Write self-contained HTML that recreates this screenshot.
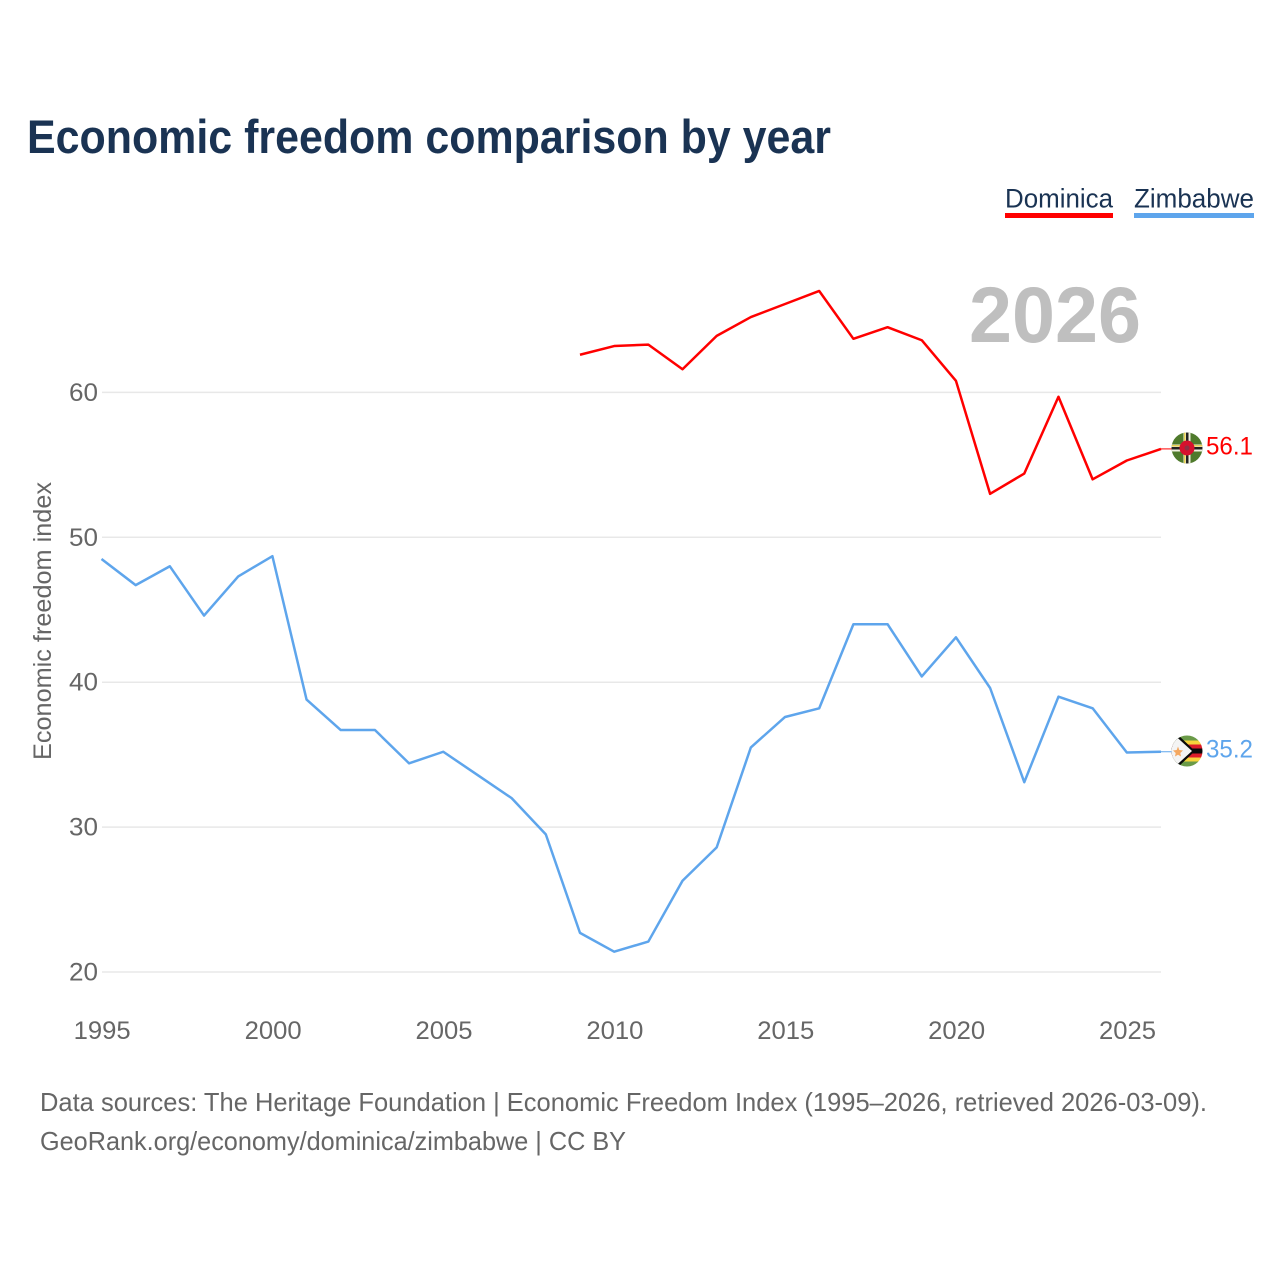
<!DOCTYPE html>
<html lang="en">
<head>
<meta charset="utf-8">
<title>Economic freedom comparison by year</title>
<style>
html,body{margin:0;padding:0;background:#fff;width:1280px;height:1280px;overflow:hidden}
svg{display:block}
text{font-family:"Liberation Sans",sans-serif}
</style>
</head>
<body>
<svg id="chart" width="1280" height="1280" viewBox="0 0 1280 1280" xmlns="http://www.w3.org/2000/svg">
<defs>
<clipPath id="clip-dm"><circle cx="1187" cy="448" r="15.5"/></clipPath>
<clipPath id="clip-zw"><circle cx="1187" cy="751" r="15.5"/></clipPath>
</defs>
<text x="27" y="153" font-size="47" font-weight="700" fill="#1a3353" textLength="804" lengthAdjust="spacingAndGlyphs">Economic freedom comparison by year</text>
<g>
<g>
<text x="1005" y="207.5" font-size="27" fill="#1a3353" textLength="108" lengthAdjust="spacingAndGlyphs">Dominica</text>
<rect x="1005" y="213" width="108" height="5" fill="#ff0000"/>
</g>
<g>
<text x="1134" y="207.5" font-size="27" fill="#1a3353" textLength="120" lengthAdjust="spacingAndGlyphs">Zimbabwe</text>
<rect x="1134" y="213" width="120" height="5" fill="#5ea5ec"/>
</g>
</g>
<text x="969" y="342" font-size="79" font-weight="700" fill="#bfbfbf" textLength="172" lengthAdjust="spacingAndGlyphs">2026</text>
<g id="grid"></g>
<g id="y-ticks"></g>
<g id="x-ticks"></g>
<text transform="translate(51 760) rotate(-90)" font-size="25" fill="#666666" textLength="278" lengthAdjust="spacingAndGlyphs">Economic freedom index</text>
<g id="series"></g>
<g id="flag-dominica" clip-path="url(#clip-dm)">
<rect x="1171" y="432" width="32" height="32" fill="#4f7a2c"/>
<rect x="1171" y="444.5" width="32" height="7" fill="#f0f0e0"/>
<rect x="1171" y="447" width="32" height="2.5" fill="#222222"/>
<rect x="1171" y="445" width="32" height="1.5" fill="#e8cf50"/>
<rect x="1183.5" y="432" width="7" height="32" fill="#f0f0e0"/>
<rect x="1186" y="432" width="2.5" height="32" fill="#222222"/>
<rect x="1184" y="432" width="1.5" height="32" fill="#e8cf50"/>
<circle cx="1187" cy="448" r="7.5" fill="#d6112e"/>
<circle cx="1187" cy="448" r="2.5" fill="#8f3044"/>
</g>
<g id="flag-zimbabwe" clip-path="url(#clip-zw)">
<rect x="1171" y="735" width="32" height="5.5" fill="#6a9a48"/>
<rect x="1171" y="740.5" width="32" height="4" fill="#f7d33c"/>
<rect x="1171" y="744.5" width="32" height="4" fill="#dc1c2a"/>
<rect x="1171" y="748.5" width="32" height="5" fill="#0a0a0a"/>
<rect x="1171" y="753.5" width="32" height="4" fill="#dc1c2a"/>
<rect x="1171" y="757.5" width="32" height="4" fill="#f7d33c"/>
<rect x="1171" y="761.5" width="32" height="6" fill="#6a9a48"/>
<polygon points="1171,734 1177,734 1195,751 1177,768 1171,768" fill="#0a0a0a"/>
<polygon points="1171,734 1175,735.5 1192,751 1175,766.5 1171,768" fill="#f4f4f4"/>
<polygon points="1178,746.5 1179.3,750 1183,750.5 1180.3,753 1181,756.5 1178,754.7 1175,756.5 1175.7,753 1173,750.5 1176.7,750" fill="#f5a860"/>
</g>
<g id="end-labels"></g>
<g>
<text x="40" y="1111" font-size="26" fill="#666666" textLength="1167" lengthAdjust="spacingAndGlyphs">Data sources: The Heritage Foundation | Economic Freedom Index (1995–2026, retrieved 2026-03-09).</text>
<text x="40" y="1150" font-size="26" fill="#666666" textLength="586" lengthAdjust="spacingAndGlyphs">GeoRank.org/economy/dominica/zimbabwe | CC BY</text>
</g>
</svg>
<script>
const years = [1995,1996,1997,1998,1999,2000,2001,2002,2003,2004,2005,2006,2007,2008,2009,2010,2011,2012,2013,2014,2015,2016,2017,2018,2019,2020,2021,2022,2023,2024,2025,2026];
const dominicaValues = [null,null,null,null,null,null,null,null,null,null,null,null,null,null,62.6,63.2,63.3,61.6,63.9,65.2,66.1,67.0,63.7,64.5,63.6,60.8,53.0,54.4,59.7,54.0,55.3,56.1];
const zimbabweValues = [48.5,46.7,48.0,44.6,47.3,48.7,38.8,36.7,36.7,34.4,35.2,33.6,32.0,29.5,22.7,21.4,22.1,26.3,28.6,35.5,37.6,38.2,44.0,44.0,40.4,43.1,39.6,33.1,39.0,38.2,35.15,35.2];
const yTickValues = [20,30,40,50,60];
const xTickValues = [1995,2000,2005,2010,2015,2020,2025];
const NS = 'http://www.w3.org/2000/svg';
const xScale = function (year) { return 101.5 + (year - 1995) * (1161 - 101.5) / 31; };
const yScale = function (value) { return 972 - (value - 20) * 14.49; };
const gridGroup = document.getElementById('grid');
const yTickGroup = document.getElementById('y-ticks');
const xTickGroup = document.getElementById('x-ticks');
const seriesGroup = document.getElementById('series');
const labelGroup = document.getElementById('end-labels');

yTickValues.forEach(function (tick) {
  const line = document.createElementNS(NS, 'line');
  
  
  line.setAttribute('x1', 102);
  line.setAttribute('x2', 1161);
  line.setAttribute('y1', yScale(tick));
  line.setAttribute('y2', yScale(tick));
  line.setAttribute('stroke', '#e8e8e8');
  line.setAttribute('stroke-width', 1.5);
  gridGroup.appendChild(line);
  const label = document.createElementNS(NS, 'text');
  
  
  label.setAttribute('x', 98);
  label.setAttribute('y', yScale(tick) + 8.5);
  label.setAttribute('text-anchor', 'end');
  label.setAttribute('font-size', 25);
  label.setAttribute('fill', '#666666');
  label.setAttribute('textLength', 29);
  label.setAttribute('lengthAdjust', 'spacingAndGlyphs');
  label.textContent = tick;
  yTickGroup.appendChild(label);
});

xTickValues.forEach(function (tick) {
  const label = document.createElementNS(NS, 'text');
  
  
  label.setAttribute('x', xScale(tick) + 0.7);
  label.setAttribute('y', 1039);
  label.setAttribute('text-anchor', 'middle');
  label.setAttribute('font-size', 25);
  label.setAttribute('fill', '#666666');
  label.setAttribute('textLength', 57);
  label.setAttribute('lengthAdjust', 'spacingAndGlyphs');
  label.textContent = tick;
  xTickGroup.appendChild(label);
});

function drawSeries(values, color, seriesName) {
  const points = [];
  values.forEach(function (value, i) {
    if (value !== null) {
      points.push(xScale(years[i]).toFixed(2) + ',' + yScale(value).toFixed(2));
    }
  });
  const path = document.createElementNS(NS, 'polyline');
  
  
  path.setAttribute('points', points.join(' '));
  path.setAttribute('fill', 'none');
  path.setAttribute('stroke', color);
  path.setAttribute('stroke-width', 2.5);
  path.setAttribute('stroke-linejoin', 'round');
  seriesGroup.appendChild(path);
  const last = values[values.length - 1];
  const leader = document.createElementNS(NS, 'line');
  
  
  leader.setAttribute('x1', 1161);
  leader.setAttribute('x2', 1172);
  leader.setAttribute('y1', yScale(last));
  leader.setAttribute('y2', yScale(last));
  leader.setAttribute('stroke', color);
  leader.setAttribute('stroke-width', 1);
  seriesGroup.appendChild(leader);
  const label = document.createElementNS(NS, 'text');
  
  
  label.setAttribute('x', 1206);
  label.setAttribute('y', yScale(last) + 5.5);
  label.setAttribute('font-size', 25);
  label.setAttribute('fill', color);
  label.setAttribute('textLength', 47);
  label.setAttribute('lengthAdjust', 'spacingAndGlyphs');
  label.textContent = last.toFixed(1);
  labelGroup.appendChild(label);
}
drawSeries(dominicaValues, '#ff0000', 'dominica');
drawSeries(zimbabweValues, '#5ea5ec', 'zimbabwe');
</script>
</body>
</html>
